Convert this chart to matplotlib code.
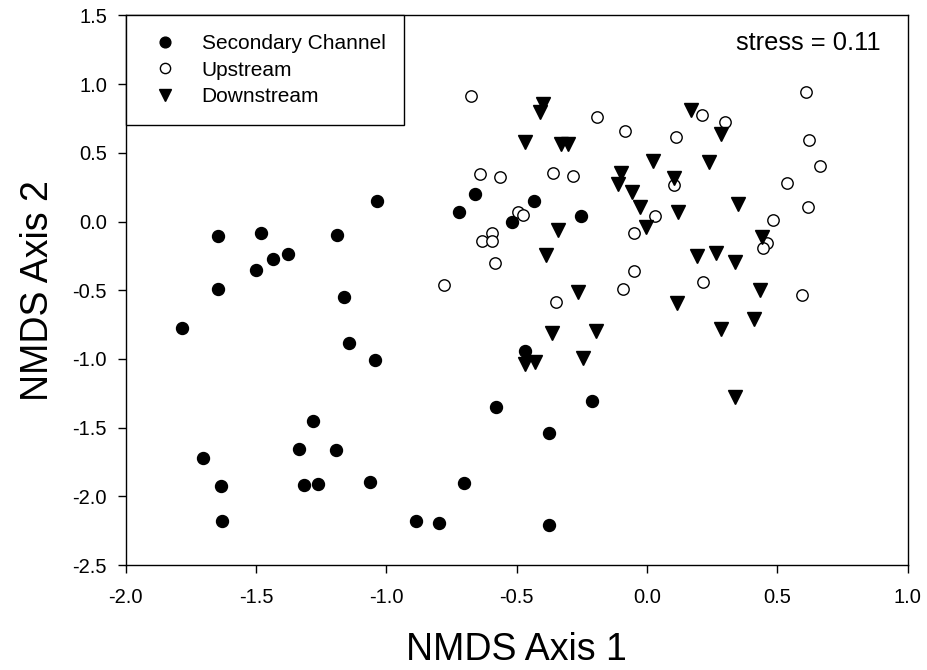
import numpy as np
import matplotlib
matplotlib.use("Agg")
import matplotlib.pyplot as plt

plt.rcParams['font.family'] = ['Liberation Sans', 'DejaVu Sans']

# NMDS scores
sec_x = [-1.036, -1.645, -1.481, -1.190, -1.378, -1.433, -1.500, -1.645, -1.161,
         -1.785, -1.145, -1.042, -1.280, -1.335, -1.192, -1.703, -1.061, -1.317,
         -1.264, -1.634, -1.630, -0.886, -0.796, -0.376, -0.703, -0.375, -0.581,
         -0.210, -0.467, -0.659, -0.723, -0.434, -0.516, -0.252]
sec_y = [0.152, -0.104, -0.084, -0.099, -0.239, -0.274, -0.352, -0.493, -0.546,
         -0.777, -0.882, -1.006, -1.449, -1.658, -1.661, -1.724, -1.894, -1.921,
         -1.911, -1.923, -2.179, -2.179, -2.196, -2.206, -1.901, -1.539, -1.347,
         -1.305, -0.940, 0.201, 0.067, 0.152, -0.001, 0.040]

up_x = [-0.676, -0.191, -0.083, 0.112, -0.640, -0.563, -0.360, -0.284, 0.102,
        -0.493, -0.474, 0.032, -0.595, -0.633, -0.595, -0.049, -0.582, -0.778,
        -0.049, -0.090, -0.348, 0.609, 0.213, 0.301, 0.622, 0.665, 0.539,
        0.619, 0.482, 0.461, 0.444, 0.216, 0.595]
up_y = [0.911, 0.761, 0.661, 0.619, 0.344, 0.322, 0.354, 0.334, 0.269,
        0.072, 0.047, 0.040, -0.086, -0.145, -0.140, -0.084, -0.303, -0.464,
        -0.359, -0.490, -0.585, 0.943, 0.777, 0.724, 0.595, 0.403, 0.281,
        0.108, 0.013, -0.157, -0.196, -0.439, -0.536]

down_x = [-0.397, -0.412, -0.469, -0.329, -0.301, 0.170, 0.022, -0.098, -0.111,
          -0.056, 0.104, -0.028, 0.120, -0.003, -0.343, -0.387, -0.263, 0.115,
          0.285, 0.240, 0.349, 0.441, 0.192, 0.266, 0.339, 0.435,
          -0.364, -0.195, -0.245, -0.467, -0.431, 0.409, 0.285, 0.339]
down_y = [0.858, 0.801, 0.578, 0.566, 0.566, 0.814, 0.439, 0.354, 0.274,
          0.218, 0.315, 0.104, 0.067, -0.042, -0.062, -0.242, -0.512, -0.590,
          0.639, 0.432, 0.128, -0.115, -0.250, -0.232, -0.291, -0.500,
          -0.814, -0.799, -0.991, -1.040, -1.023, -0.707, -0.785, -1.276]

xticks = [-2.0, -1.5, -1.0, -0.5, 0.0, 0.5, 1.0]
yticks = [-2.5, -2.0, -1.5, -1.0, -0.5, 0.0, 0.5, 1.0, 1.5]

fig = plt.figure(figsize=(9.27, 6.7), dpi=100)
ax = fig.add_axes([0.1356, 0.1567, 0.979 - 0.1356, 0.9769 - 0.1567])

ax.plot(sec_x, sec_y, 'o', color='black', markersize=8.6, linestyle='none',
        label='Secondary Channel')
ax.plot(up_x, up_y, 'o', markerfacecolor='white', markeredgecolor='black',
        markeredgewidth=1.0, markersize=8.2, linestyle='none', label='Upstream')
ax.plot(down_x, down_y, 'v', color='black', markersize=10, linestyle='none',
        label='Downstream')

ax.set_xlim(-2.0, 1.0)
ax.set_ylim(-2.5, 1.5)
ax.set_xticks(xticks)
ax.set_yticks(yticks)
ax.set_xticklabels(['%.1f' % v for v in xticks])
ax.set_yticklabels(['%.1f' % v for v in yticks])
ax.tick_params(direction='out', length=5.5, width=1, labelsize=14.5)
ax.tick_params(axis='x', pad=11)
ax.tick_params(axis='y', pad=8)
for s in ax.spines.values():
    s.set_linewidth(1)

ax.set_xlabel('NMDS Axis 1', fontsize=27, labelpad=18)
ax.set_ylabel('NMDS Axis 2', fontsize=27, labelpad=12)

ax.text(0.965, 0.95, 'stress = 0.11', transform=ax.transAxes, ha='right',
        va='center', fontsize=18.4)

leg = ax.legend(loc='upper left', borderaxespad=0, fontsize=15, frameon=True,
                fancybox=False, edgecolor='black', borderpad=0.9,
                handlelength=2.0, handletextpad=0.75, labelspacing=0.35,
                markerscale=0.9)
leg.get_frame().set_linewidth(1)
leg.get_frame().set_alpha(1)

fig.savefig('out.png', dpi=100)
